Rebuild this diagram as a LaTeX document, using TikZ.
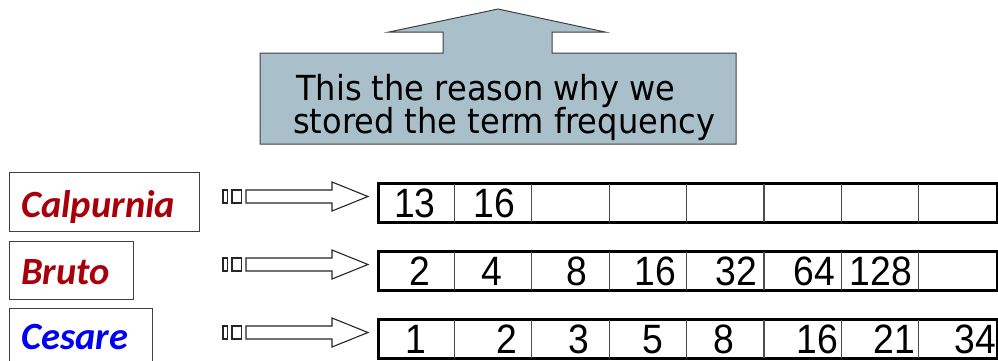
\documentclass[tikz,border=0pt]{standalone}
\usepackage{fontspec}
\setmainfont{DejaVu Sans}
\newfontfamily\numfont[FakeStretch=0.91]{Liberation Sans}
\newfontfamily\callfont[FakeStretch=0.93]{DejaVu Sans}
\newfontfamily\labfont{Carlito}
\usetikzlibrary{calc}
\definecolor{callblue}{RGB}{169,192,203}
\definecolor{labred}{RGB}{168,0,10}
\definecolor{labblue}{RGB}{0,0,245}
\tikzset{
  callout/.style={draw=black!75, line width=1pt, fill=callblue},
  calltext/.style={font=\callfont\fontsize{34.5}{34.5}\selectfont, anchor=base west, inner sep=0},
  cellrow/.style={draw=black, line width=3pt, minimum width=619, minimum height=39, anchor=north west, inner sep=0},
  divider/.style={draw=black!70, line width=1.3pt, shorten <=2pt, shorten >=2pt},
  num/.style={font=\numfont\fontsize{41}{41}\selectfont, anchor=base, inner sep=0},
  labbox/.style={draw=black!75, line width=1.3pt, anchor=north west, inner sep=0},
  lab/.style={font=\labfont\bfseries\itshape\fontsize{38.5}{38.5}\selectfont, anchor=base west, inner sep=0},
  blockarrow/.style={draw=black!85, line width=1.1pt, fill=white, line join=miter}
}
\begin{document}
\begin{tikzpicture}[x=1pt,y=-1pt]
\useasboundingbox (0,0) rectangle (998,360);
\clip (0,0) rectangle (998,360);
\fill[white] (0,0) rectangle (998,360);

% callout arrow box
\draw[callout] (260,53) -- (443,53) -- (443,32) -- (389,32) -- (498,9) -- (605,32)
  -- (552,32) -- (552,53) -- (736,53) -- (736,144) -- (260,144) -- cycle;
\node[calltext] (callA) at (296,100) {This the reason why we};
\node[calltext] (callB) at (293,133) {stored the term frequency};

% term boxes
\node[labbox, minimum width=190, minimum height=59] (calbox) at (9,172) {};
\node[labbox, minimum width=124, minimum height=58] (brubox) at (9,241) {};
\node[labbox, minimum width=143, minimum height=70] (cesbox) at (9,308) {};
\node[lab, text=labred] (cal) at (21,217) {Calpurnia};
\node[lab, text=labred] (bru) at (21,284) {Bruto};
\node[lab, text=labblue] (ces) at (21,349) {Cesare};

% block arrows
\foreach \yc/\nm in {196.5/a1, 264.5/a2, 332.5/a3}{
  \coordinate (\nm) at (246,\yc);
  \draw[blockarrow] (223,\yc-6.5) rectangle (227.5,\yc+6.5);
  \draw[blockarrow] (232,\yc-6.5) rectangle (241.5,\yc+6.5);
  \draw[blockarrow] ($(\nm)+(0,-6.5)$) -- ++(86,0) -- ++(0,-8) -- ($(\nm)+(122,0)$)
    -- ($(\nm)+(86,14.5)$) -- ++(0,-8) -- ($(\nm)+(0,6.5)$) -- cycle;
}

% posting rows
\foreach \r/\yt in {r1/182, r2/249.5, r3/318}{
  \node[cellrow] (\r) at (377,\yt) {};
  \foreach \i in {1,...,7}{
    \draw[divider] ($(\r.north west)+(77.4*\i,0)$) -- ($(\r.south west)+(77.4*\i,0)$);
  }
}

% row 1
\node[num] (n11) at (415,217) {13};
\node[num] (n12) at (494,217) {16};
% row 2
\node[num] (n21) at (420,285) {2};
\node[num] (n22) at (492,285) {4};
\node[num] (n23) at (577,285) {8};
\node[num] (n24) at (655,285) {16};
\node[num] (n25) at (736,285) {32};
\node[num] (n26) at (814,285) {64};
\node[num] (n27) at (881,285) {128};
% row 3
\node[num] (n31) at (416,353) {1};
\node[num] (n32) at (507,353) {2};
\node[num] (n33) at (579,353) {3};
\node[num] (n34) at (653,353) {5};
\node[num] (n35) at (724,353) {8};
\node[num] (n36) at (817,353) {16};
\node[num] (n37) at (894,353) {21};
\node[num] (n38) at (975,353) {34};
\end{tikzpicture}
\end{document}
